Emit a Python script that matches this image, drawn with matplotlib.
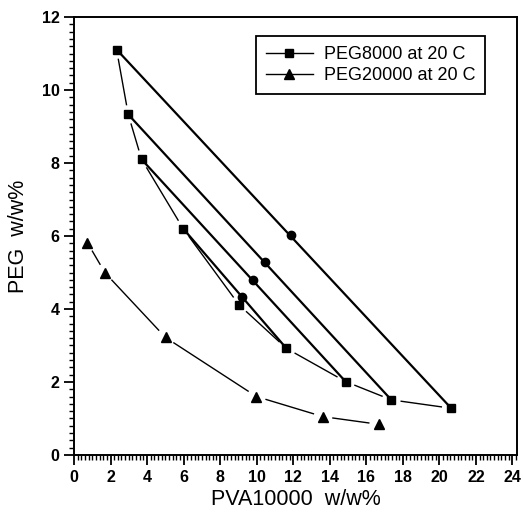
import matplotlib
matplotlib.use("Agg")
import matplotlib.pyplot as plt
import numpy as np
from matplotlib.lines import Line2D
from matplotlib.ticker import MultipleLocator

plt.rcParams['font.family'] = ['Liberation Sans', 'DejaVu Sans']

# Binodal PEG8000 (squares)
peg8000_x = [2.33, 2.97, 3.70, 5.98, 9.04, 11.63, 14.87, 17.37, 20.65]
peg8000_y = [11.11, 9.33, 8.10, 6.20, 4.11, 2.92, 2.01, 1.51, 1.28]

# Tie lines: top, mid (circle), bottom
tie_top_x = [2.33, 2.97, 3.70, 5.98]
tie_top_y = [11.11, 9.33, 8.10, 6.20]
tie_mid_x = [11.86, 10.44, 9.80, 9.22]
tie_mid_y = [6.02, 5.29, 4.79, 4.34]
tie_bot_x = [20.65, 17.37, 14.87, 11.63]
tie_bot_y = [1.28, 1.51, 2.01, 2.92]

# Binodal PEG20000 (triangles)
peg20000_x = [0.73, 1.70, 5.01, 9.99, 13.63, 16.68]
peg20000_y = [5.82, 4.99, 3.22, 1.60, 1.05, 0.84]

fig = plt.figure(figsize=(5.23, 5.17), dpi=100)
ax = fig.add_axes([0.1415, 0.12, 0.847, 0.847])
ax.set_xlim(0, 24.25)
ax.set_ylim(0, 12)

def gapped(ax, xs, ys, gap=10, **kw):
    fig.canvas.draw()
    T = ax.transData
    inv = T.inverted()
    pts = T.transform(np.column_stack([xs, ys]))
    for a, b in zip(pts[:-1], pts[1:]):
        d = b - a
        L = np.hypot(*d)
        if L <= 2 * gap:
            continue
        u = d / L
        p0 = inv.transform(a + u * gap)
        p1 = inv.transform(b - u * gap)
        ax.plot([p0[0], p1[0]], [p0[1], p1[1]], color='black', **kw)

gapped(ax, peg8000_x, peg8000_y, lw=1.0)
gapped(ax, peg20000_x, peg20000_y, lw=1.0)

for i in range(len(tie_top_x)):
    ax.plot([tie_top_x[i], tie_bot_x[i]], [tie_top_y[i], tie_bot_y[i]],
            color='black', lw=1.6)

ax.plot(peg8000_x, peg8000_y, ls='none', marker='s', ms=6, color='black')
ax.plot(tie_mid_x, tie_mid_y, ls='none', marker='o', ms=6, color='black')
ax.plot(peg20000_x, peg20000_y, ls='none', marker='^', ms=7.5, color='black')

handles = [Line2D([], [], color='black', lw=1.0, marker='s', ms=6),
           Line2D([], [], color='black', lw=1.0, marker='^', ms=7.5)]
leg = ax.legend(handles, ['PEG8000 at 20 C', 'PEG20000 at 20 C'],
                loc='upper right', bbox_to_anchor=(0.928, 0.957),
                fancybox=False, framealpha=1, edgecolor='black',
                fontsize=13, handlelength=2.6, borderpad=0.55,
                labelspacing=0.25, handletextpad=0.6, borderaxespad=0)
leg.get_frame().set_linewidth(1.3)

ax.xaxis.set_major_locator(MultipleLocator(2))
ax.xaxis.set_minor_locator(MultipleLocator(0.2))
ax.yaxis.set_major_locator(MultipleLocator(2))
ax.yaxis.set_minor_locator(MultipleLocator(0.2))
ax.tick_params(which='major', direction='out', length=7, width=1.3,
               labelsize=11.5)
ax.tick_params(which='minor', direction='out', length=3.5, width=1.0)
for lab in ax.get_xticklabels() + ax.get_yticklabels():
    lab.set_fontweight('bold')
for s in ax.spines.values():
    s.set_linewidth(1.4)

ax.set_xlabel('PVA10000  w/w%', fontsize=15.5, labelpad=3)
ax.set_ylabel('PEG  w/w%', fontsize=15.5, labelpad=9)

fig.savefig('out.png', dpi=100)
